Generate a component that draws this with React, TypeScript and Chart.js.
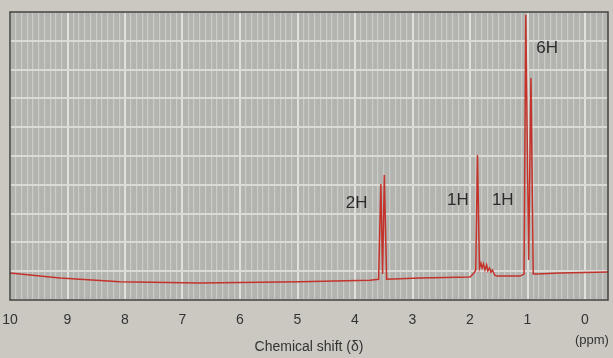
import React, { useEffect, useRef } from "react";
import { Chart, registerables } from "chart.js";

Chart.register(...registerables);

// Spectrum trace (chemical shift in ppm, relative intensity in %)
const shifts = [
  10.0, 9.13, 8.09, 6.7, 4.96, 3.74,
  3.59, 3.55, 3.52, 3.49, 3.45,
  2.87, 2.0, 1.93, 1.9, 1.87, 1.835, 1.81, 1.79, 1.765, 1.74, 1.71, 1.69, 1.66, 1.635, 1.61, 1.57, 1.53,
  1.13, 1.06, 1.03, 0.98, 0.94, 0.9, 0.835, 0.435, -0.4,
];
const intensities = [
  9.4, 7.6, 6.3, 5.9, 6.3, 6.9,
  7.2, 40.3, 9.0, 43.4, 7.2,
  7.6, 8.0, 9.4, 10.4, 50.3, 11.1, 12.8, 11.1, 12.5, 10.4, 12.2, 10.1, 11.1, 9.7, 10.4, 8.6, 8.3,
  8.3, 9.0, 99.0, 13.9, 77.1, 9.0, 9.0, 9.4, 9.7,
];

// Integration labels
const labelTexts = ["2H", "1H", "1H", "6H"];
const labelShifts = [3.97, 2.21, 1.43, 0.66];
const labelIntensities = [33.7, 34.7, 34.7, 87.5];

const xMin = -0.4;
const xMax = 10;
const axisTitle = "Chemical shift (δ)";
const unitText = "(ppm)";

export default function App() {
  const ref = useRef<HTMLCanvasElement | null>(null);

  useEffect(() => {
    document.body.style.margin = "0";
    const canvas = ref.current;
    if (!canvas) return;

    const bgPlugin = {
      id: "bgPlugin",
      beforeDraw(chart: any) {
        const { ctx, chartArea: a, width, height } = chart;
        ctx.save();
        ctx.fillStyle = "#cbc8c2";
        ctx.fillRect(0, 0, width, height);
        ctx.fillStyle = "#b3b4b0";
        ctx.fillRect(a.left, a.top, a.right - a.left, a.bottom - a.top);
        ctx.restore();
      },
      afterDraw(chart: any) {
        const { ctx, chartArea: a, scales } = chart;
        ctx.save();
        ctx.strokeStyle = "#3c3c3a";
        ctx.lineWidth = 1.5;
        ctx.strokeRect(a.left, a.top, a.right - a.left, a.bottom - a.top);
        ctx.fillStyle = "#2b2b2b";
        ctx.font = "17px 'Liberation Sans', Arial, sans-serif";
        ctx.textAlign = "center";
        ctx.textBaseline = "middle";
        for (let i = 0; i < labelTexts.length; i++) {
          const px = scales.x.getPixelForValue(labelShifts[i]);
          const py = scales.y.getPixelForValue(labelIntensities[i]);
          ctx.fillText(labelTexts[i], px, py);
        }
        ctx.fillStyle = "#333";
        ctx.font = "13px 'Liberation Sans', Arial, sans-serif";
        ctx.textAlign = "left";
        ctx.fillText(unitText, scales.x.getPixelForValue(0) - 10, 340);
        ctx.restore();
      },
    };

    const chart = new Chart(canvas, {
      type: "line",
      data: {
        datasets: [
          {
            data: shifts.map((s, i) => ({ x: s, y: intensities[i] })),
            borderColor: "#c4332b",
            borderWidth: 1.5,
            pointRadius: 0,
            tension: 0,
            fill: false,
          },
        ],
      },
      options: {
        animation: false,
        responsive: false,
        maintainAspectRatio: false,
        layout: { padding: { left: 10, right: 5, top: 12, bottom: 0 } },
        plugins: { legend: { display: false }, tooltip: { enabled: false } },
        scales: {
          x: {
            type: "linear",
            reverse: true,
            min: xMin,
            max: xMax,
            afterFit(scale: any) {
              scale.height = 58;
              scale.paddingLeft = 0;
              scale.paddingRight = 0;
            },
            border: { display: false },
            grid: {
              drawTicks: false,
              color: (c: any) => {
                const v = c.tick ? c.tick.value : 0;
                return Math.abs(v - Math.round(v)) < 1e-6 ? "#e0e0dc" : "#cbccc8";
              },
              lineWidth: (c: any) => {
                const v = c.tick ? c.tick.value : 0;
                return Math.abs(v - Math.round(v)) < 1e-6 ? 2 : 1.2;
              },
            },
            ticks: {
              stepSize: 0.1,
              autoSkip: false,
              maxRotation: 0,
              padding: 12,
              color: "#333",
              font: { size: 14, family: "'Liberation Sans', Arial, sans-serif" },
              callback: (v: any) => {
                const n = Number(v);
                return Math.abs(n - Math.round(n)) < 1e-6 && n >= 0 ? String(Math.round(n)) : "";
              },
            },
            title: {
              display: true,
              text: axisTitle,
              color: "#333",
              padding: { top: 0, bottom: 2 },
              font: { size: 14, family: "'Liberation Sans', Arial, sans-serif" },
            },
          },
          y: {
            min: 0,
            max: 100,
            afterFit(scale: any) {
              scale.width = 0;
              scale.paddingTop = 0;
              scale.paddingBottom = 0;
            },
            border: { display: false },
            grid: { drawTicks: false, color: "#dadad6", lineWidth: 2 },
            ticks: { display: false, stepSize: 10 },
          },
        },
      },
      plugins: [bgPlugin],
    });
    return () => chart.destroy();
  }, []);

  return (
    <div style={{ width: 613, height: 358 }}>
      <canvas ref={ref} width={613} height={358} style={{ width: 613, height: 358, display: "block" }} />
    </div>
  );
}
